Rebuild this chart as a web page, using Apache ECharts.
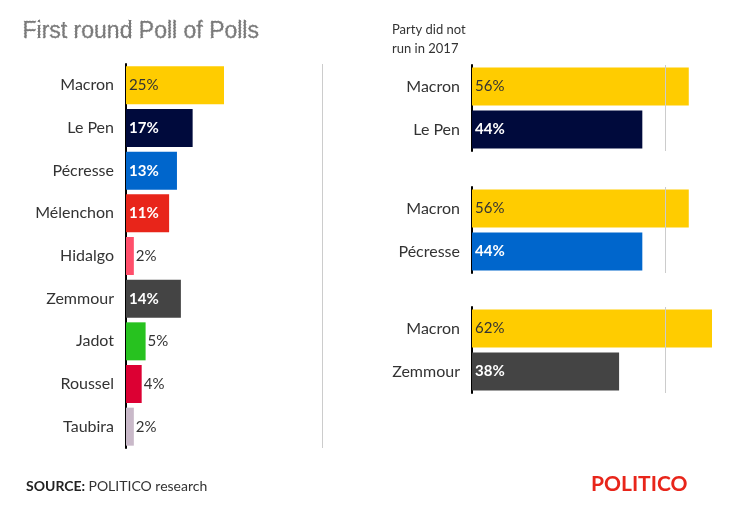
<!DOCTYPE html>
<html lang="en">
<head>
<meta charset="UTF-8">
<title>Poll of Polls</title>
<script src="https://cdn.jsdelivr.net/npm/echarts@6/dist/echarts.min.js"></script>
<style>html,body{margin:0;background:#fff}#c{width:731px;height:508px}</style>
</head>
<body>
<div id="c"></div>
<script>
// first round
var firstNames = ['Macron', 'Le Pen', 'Pécresse', 'Mélenchon', 'Hidalgo', 'Zemmour', 'Jadot', 'Roussel', 'Taubira'];
var firstValues = [25, 17, 13, 11, 2, 14, 5, 4, 2];
var firstColors = ['#ffcc00', '#000a3c', '#0066cc', '#e8251a', '#ff4f6b', '#444444', '#27c21f', '#dc0033', '#c9b9c9'];
var firstLabelDark = [true, false, false, false, true, false, true, true, true];
// second round pairs
var pairNames = [['Macron', 'Le Pen'], ['Macron', 'Pécresse'], ['Macron', 'Zemmour']];
var pairValues = [[56, 44], [56, 44], [62, 38]];
var pairColors = [['#ffcc00', '#000a3c'], ['#ffcc00', '#0066cc'], ['#ffcc00', '#444444']];
var pairTops = [65, 187, 307];

var font = 'Lato, "Open Sans", sans-serif';
var chart = echarts.init(document.getElementById('c'));

var grids = [{left: 126, top: 64, width: 196, height: 384}];
var xAxes = [{gridIndex: 0, type: 'value', min: 0, max: 50, show: false}];
var yAxes = [{gridIndex: 0, type: 'category', inverse: true, data: firstNames,
  axisLine: {lineStyle: {color: '#000', width: 2}}, axisTick: {show: false},
  axisLabel: {fontSize: 16, color: '#333', fontFamily: font, margin: 12}}];

function labelFor(dark) {
  return dark ? {show: true, position: 'right', distance: 2, color: '#333', fontSize: 15, fontFamily: font, formatter: '{c}%'}
              : {show: true, position: 'insideLeft', distance: 3, color: '#fff', fontWeight: 'bold', fontSize: 15, fontFamily: font, formatter: '{c}%'};
}

var series = [{
  type: 'bar', xAxisIndex: 0, yAxisIndex: 0, barWidth: 38,
  data: firstValues.map(function (v, i) {
    var lab = labelFor(firstLabelDark[i] && v < 10);
    if (i === 0) lab = {show: true, position: 'insideLeft', distance: 3, color: '#333', fontSize: 15, fontFamily: font, formatter: '{c}%'};
    return {value: v, itemStyle: {color: firstColors[i]}, label: lab};
  }),
  markLine: {silent: true, symbol: 'none', label: {show: false}, lineStyle: {color: '#ccc', type: 'solid', width: 1}, data: [{xAxis: 50}]}
}];

pairNames.forEach(function (names, g) {
  var gi = g + 1;
  grids.push({left: 472, top: pairTops[g], width: 240, height: 86});
  xAxes.push({gridIndex: gi, type: 'value', min: 0, max: 62, show: false});
  yAxes.push({gridIndex: gi, type: 'category', inverse: true, data: names,
    axisLine: {lineStyle: {color: '#000', width: 2}}, axisTick: {show: false},
    axisLabel: {fontSize: 16, color: '#333', fontFamily: font, margin: 12}});
  series.push({
    type: 'bar', xAxisIndex: gi, yAxisIndex: gi, barWidth: 38,
    data: pairValues[g].map(function (v, i) {
      return {value: v, itemStyle: {color: pairColors[g][i]},
        label: {show: true, position: 'insideLeft', distance: 3, fontSize: 15, fontFamily: font, formatter: '{c}%',
          color: i === 0 ? '#333' : '#fff', fontWeight: i === 0 ? 'normal' : 'bold'}};
    }),
    markLine: {silent: true, symbol: 'none', label: {show: false}, lineStyle: {color: '#ccc', type: 'solid', width: 1}, data: [{xAxis: 50}]}
  });
});

chart.setOption({
  animation: false,
  grid: grids, xAxis: xAxes, yAxis: yAxes, series: series,
  graphic: [
    {type: 'text', left: 22, top: 20, style: {text: 'First round Poll of Polls', fontSize: 23, fill: '#7a7a7a', font: '300 23px ' + font}},
    {type: 'text', left: 392, top: 20, style: {text: 'Second round Poll of Polls', fontSize: 23, fill: '#7a7a7a', font: '300 23px ' + font}},
    {type: 'text', left: 26, top: 479, style: {rich: {b: {fontWeight: 'bold', fontSize: 14, fill: '#222', fontFamily: font}, n: {fontSize: 14, fill: '#333', fontFamily: font}}, text: '{b|SOURCE:} {n|POLITICO research}'}},
    {type: 'text', left: 591, top: 474, style: {text: 'POLITICO', fill: '#e8251a', font: 'bold 21px ' + font}}
  ]
});

// dotted separator between Hidalgo and Zemmour, plus note
var p1 = chart.convertToPixel({gridIndex: 0}, [0, 4]);
var p2 = chart.convertToPixel({gridIndex: 0}, [0, 5]);
var ySep = (p1[1] + p2[1]) / 2;
chart.setOption({graphic: [
  {type: 'line', shape: {x1: 127, y1: ySep, x2: 320, y2: ySep}, style: {stroke: '#999', lineDash: [1, 2], lineWidth: 1}},
  {type: 'text', x: 312, y: ySep + 8, style: {text: 'Party did not\nrun in 2017', align: 'right', fill: '#333', fontSize: 13, lineHeight: 19, fontFamily: font}}
]});
</script>
</body>
</html>
